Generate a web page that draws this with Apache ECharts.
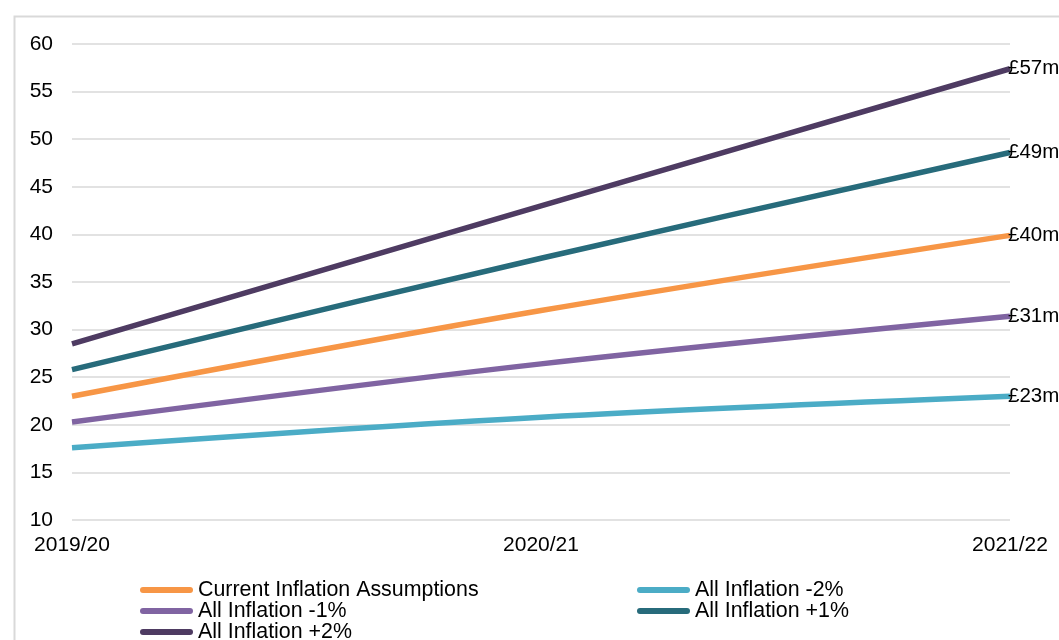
<!DOCTYPE html>
<html>
<head>
<meta charset="utf-8">
<script src="https://cdn.jsdelivr.net/npm/echarts@6/dist/echarts.min.js"></script>
<style>html,body{margin:0;padding:0;background:#fff;}#c{width:1059px;height:640px;}</style>
</head>
<body>
<div id="c"></div>
<script>
const categories = ['2019/20', '2020/21', '2021/22'];
const seriesNames = ['Current Inflation Assumptions', 'All Inflation -2%', 'All Inflation -1%', 'All Inflation +1%', 'All Inflation +2%'];
const currentAssumptions = [23.0, 32.0, 39.9];
const inflationMinus2 = [17.6, 20.8, 23.0];
const inflationMinus1 = [20.3, 26.4, 31.4];
const inflationPlus1 = [25.8, 37.5, 48.6];
const inflationPlus2 = [28.5, 43.0, 57.4];
const colors = ['#F79646', '#4BACC6', '#8064A2', '#276B7B', '#4E3B62'];

const FONT = '"Liberation Sans", Arial, sans-serif';
const values = [currentAssumptions, inflationMinus2, inflationMinus1, inflationPlus1, inflationPlus2];
const icon = 'path://M3,0 L50,0 A3,3 0 0 1 50,6 L3,6 A3,3 0 0 1 3,0 Z';

const chart = echarts.init(document.getElementById('c'), null, {renderer: 'canvas'});
const legendBase = {
  orient: 'vertical', top: 579.5, height: 80, padding: 0, itemGap: 0,
  itemWidth: 53, itemHeight: 6, icon: icon,
  textStyle: {color: '#000', fontSize: 21.4, fontFamily: FONT, lineHeight: 21}
};
chart.setOption({
  animation: false,
  backgroundColor: '#fff',
  graphic: [{
    type: 'rect', left: 12, top: 14, z: -10,
    shape: {width: 1200, height: 800},
    style: {fill: 'none', stroke: '#d9d9d9', lineWidth: 2}
  }],
  grid: {left: 72, right: 49, top: 44, bottom: 120, containLabel: false},
  xAxis: {
    type: 'category', data: categories, boundaryGap: false,
    axisLine: {show: false}, axisTick: {show: false},
    axisLabel: {color: '#000', fontSize: 21, fontFamily: FONT, margin: 15, interval: 0},
    splitLine: {show: false}
  },
  yAxis: {
    type: 'value', min: 10, max: 60, interval: 5,
    axisLine: {show: false}, axisTick: {show: false},
    axisLabel: {color: '#000', fontSize: 21, fontFamily: FONT, margin: 19},
    splitLine: {lineStyle: {color: '#d9d9d9', width: 1.5}}
  },
  legend: [
    Object.assign({}, legendBase, {left: 140, data: [seriesNames[0], seriesNames[2], seriesNames[4]]}),
    Object.assign({}, legendBase, {left: 637, data: [seriesNames[1], seriesNames[3]]})
  ],
  series: seriesNames.map((name, i) => ({
    name: name, type: 'line', data: values[i], smooth: 0.35,
    symbol: 'none', color: colors[i],
    lineStyle: {width: 5.5, color: colors[i]},
    endLabel: {
      show: true, distance: -2, color: '#000', fontSize: 20.5, fontFamily: FONT,
      formatter: p => '£' + Math.round(p.value) + 'm'
    }
  }))
});
</script>
</body>
</html>
